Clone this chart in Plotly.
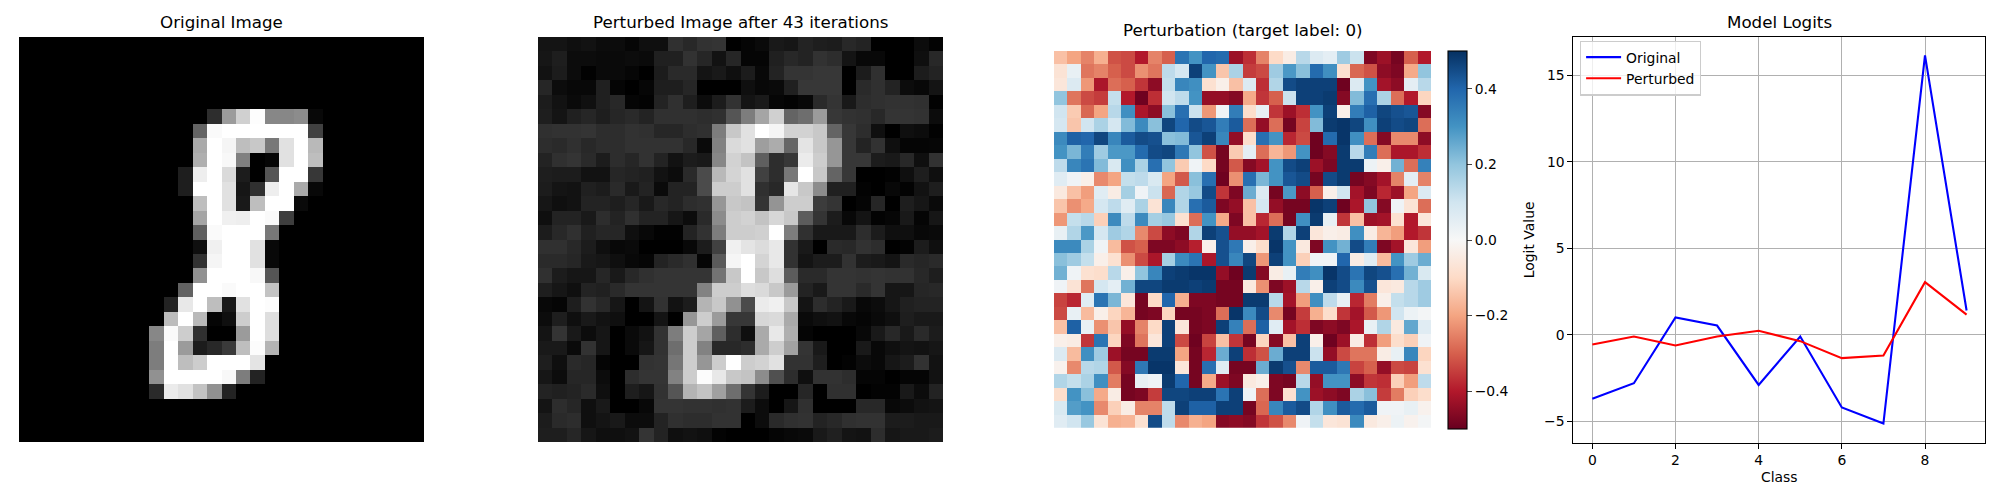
import plotly.graph_objects as go

classes = [0, 1, 2, 3, 4, 5, 6, 7, 8, 9]
logits_original = [-3.7, -2.8, 1.0, 0.53, -2.9, -0.1, -4.2, -5.13, 16.15, 1.4]
logits_perturbed = [-0.56, -0.1, -0.62, -0.1, 0.23, -0.37, -1.35, -1.2, 3.04, 1.16]

# grey levels 0-255
original_image = [
    [0] * 28,
    [0] * 28,
    [0] * 28,
    [0] * 28,
    [0] * 28,
    [0] * 13 + [45, 155, 208, 253, 135, 135, 140, 8] + [0] * 7,
    [0] * 12 + [100, 250, 255, 255, 255, 255, 255, 255, 65] + [0] * 7,
    [0] * 12 + [170, 255, 245, 190, 200, 120, 225, 255, 185] + [0] * 7,
    [0] * 12 + [175, 255, 248, 128, 0, 5, 225, 255, 190] + [0] * 7,
    [0] * 11 + [30, 238, 255, 218, 28, 0, 85, 255, 255, 55] + [0] * 7,
    [0] * 11 + [30, 255, 255, 225, 22, 48, 238, 255, 170, 8] + [0] * 7,
    [0] * 12 + [190, 255, 225, 25, 190, 255, 255, 10] + [0] * 8,
    [0] * 12 + [165, 255, 240, 238, 255, 250, 62] + [0] * 9,
    [0] * 12 + [95, 250, 255, 255, 255, 120] + [0] * 10,
    [0] * 12 + [15, 240, 255, 255, 225, 8] + [0] * 10,
    [0] * 12 + [50, 245, 255, 255, 225, 8] + [0] * 10,
    [0] * 12 + [145, 255, 255, 255, 248, 85] + [0] * 10,
    [0] * 11 + [98, 255, 255, 250, 255, 255, 195] + [0] * 10,
    [0] * 10 + [35, 232, 255, 190, 25, 225, 255, 252] + [0] * 10,
    [0] * 10 + [188, 255, 185, 5, 15, 205, 255, 222] + [0] * 10,
    [0] * 9 + [135, 250, 205, 48, 0, 0, 155, 255, 222] + [0] * 10,
    [0] * 9 + [125, 255, 155, 28, 40, 58, 190, 252, 180] + [0] * 10,
    [0] * 9 + [125, 255, 190, 205, 255, 255, 255, 228] + [0] * 11,
    [0] * 9 + [145, 255, 255, 255, 255, 248, 125, 35] + [0] * 11,
    [0] * 9 + [42, 235, 225, 195, 145, 35] + [0] * 13,
    [0] * 28,
    [0] * 28,
    [0] * 28,
]

perturbed_image = [
    [20, 20, 15, 18, 12, 12, 6, 15, 15, 48, 40, 50, 52, 0, 5, 10, 25, 22, 35, 30, 28, 40, 35, 0, 0, 0, 12, 3],
    [22, 30, 12, 12, 10, 10, 12, 10, 32, 32, 50, 38, 18, 38, 5, 5, 32, 40, 35, 50, 45, 20, 8, 8, 0, 0, 15, 40],
    [18, 28, 12, 2, 10, 10, 6, 0, 28, 42, 42, 20, 25, 15, 28, 8, 35, 52, 52, 55, 55, 0, 28, 48, 0, 0, 28, 35],
    [38, 12, 8, 8, 32, 5, 0, 6, 30, 30, 38, 0, 0, 0, 15, 8, 10, 32, 55, 55, 55, 0, 42, 48, 35, 12, 8, 20],
    [28, 18, 10, 16, 32, 40, 5, 3, 35, 48, 30, 12, 28, 50, 20, 26, 6, 3, 8, 42, 52, 25, 45, 48, 50, 50, 48, 2],
    [30, 20, 32, 38, 30, 38, 42, 35, 48, 48, 48, 45, 48, 85, 125, 165, 208, 100, 110, 155, 55, 50, 48, 40, 52, 52, 50, 12],
    [48, 50, 50, 52, 45, 45, 50, 48, 38, 38, 45, 48, 125, 200, 225, 255, 245, 210, 210, 200, 100, 55, 45, 15, 0, 15, 12, 2],
    [45, 42, 48, 40, 45, 45, 50, 50, 50, 50, 40, 10, 130, 218, 225, 158, 172, 102, 228, 200, 150, 55, 35, 50, 15, 5, 5, 6],
    [35, 48, 52, 42, 28, 45, 38, 50, 35, 18, 28, 25, 135, 210, 195, 95, 45, 55, 235, 205, 150, 55, 55, 28, 25, 40, 15, 50],
    [30, 28, 28, 18, 18, 38, 35, 32, 18, 12, 42, 75, 185, 212, 225, 65, 45, 120, 255, 200, 100, 55, 0, 0, 2, 15, 30, 15],
    [28, 20, 18, 32, 28, 42, 25, 35, 10, 35, 35, 75, 205, 205, 225, 48, 40, 230, 200, 140, 32, 32, 3, 0, 8, 3, 18, 30],
    [22, 15, 18, 35, 35, 30, 38, 25, 40, 35, 45, 48, 150, 200, 195, 52, 148, 205, 205, 60, 52, 0, 5, 38, 0, 30, 22, 10],
    [15, 35, 35, 25, 45, 35, 48, 35, 35, 22, 12, 42, 140, 205, 210, 195, 215, 200, 92, 52, 28, 8, 20, 3, 6, 25, 5, 22],
    [28, 40, 48, 32, 38, 38, 15, 8, 2, 2, 35, 50, 125, 205, 205, 208, 255, 125, 48, 25, 25, 25, 45, 28, 15, 15, 8, 10],
    [48, 48, 40, 28, 15, 8, 10, 0, 0, 0, 8, 28, 65, 240, 228, 220, 232, 50, 25, 0, 42, 40, 50, 45, 0, 3, 28, 15],
    [42, 42, 38, 25, 22, 15, 8, 5, 35, 42, 48, 5, 90, 245, 255, 212, 232, 50, 20, 28, 28, 50, 28, 25, 20, 42, 38, 42],
    [48, 28, 22, 22, 38, 25, 40, 48, 52, 52, 52, 52, 115, 200, 255, 200, 222, 92, 42, 42, 52, 52, 50, 52, 50, 50, 40, 30],
    [30, 22, 15, 35, 32, 42, 52, 52, 52, 52, 52, 130, 205, 205, 222, 218, 200, 155, 35, 25, 52, 52, 42, 52, 22, 22, 38, 40],
    [8, 5, 30, 50, 40, 22, 0, 20, 50, 18, 28, 180, 200, 145, 75, 235, 240, 200, 20, 45, 35, 25, 8, 12, 22, 32, 35, 35],
    [12, 30, 15, 25, 18, 15, 0, 0, 20, 0, 150, 205, 155, 55, 55, 215, 218, 170, 10, 15, 18, 8, 5, 10, 15, 30, 25, 25],
    [20, 52, 25, 12, 22, 0, 10, 18, 50, 125, 205, 165, 95, 45, 15, 170, 232, 175, 5, 0, 0, 0, 8, 25, 40, 25, 42, 28],
    [25, 25, 10, 50, 22, 0, 10, 22, 50, 110, 205, 130, 40, 40, 45, 170, 205, 162, 52, 25, 0, 0, 25, 8, 15, 20, 18, 22],
    [30, 15, 42, 38, 5, 0, 0, 50, 52, 118, 205, 150, 205, 255, 205, 210, 225, 50, 50, 30, 0, 3, 12, 8, 22, 28, 50, 18],
    [22, 12, 38, 38, 12, 0, 45, 52, 52, 130, 205, 252, 232, 200, 195, 140, 80, 45, 15, 50, 50, 45, 5, 5, 0, 5, 5, 18],
    [35, 32, 35, 42, 15, 0, 30, 22, 50, 85, 180, 195, 160, 110, 52, 28, 0, 0, 38, 0, 48, 48, 0, 3, 3, 25, 12, 35],
    [20, 45, 38, 15, 25, 0, 0, 8, 52, 52, 50, 50, 48, 50, 28, 12, 0, 22, 48, 0, 0, 0, 40, 40, 8, 12, 18, 20],
    [28, 42, 45, 15, 20, 25, 12, 12, 35, 48, 45, 45, 50, 50, 0, 12, 42, 48, 50, 35, 40, 48, 50, 50, 28, 28, 25, 25],
    [30, 30, 38, 22, 15, 15, 18, 52, 35, 15, 18, 15, 3, 0, 0, 0, 5, 8, 10, 25, 32, 20, 18, 45, 22, 25, 25, 28],
]

# perturbation in hundredths
perturbation = [
    [-15, -20, -25, -18, -32, -33, -40, -25, -30, 37, 30, 40, 39, -43, -37, -25, -10, -4, 14, 7, 5, 18, 11, -47, -43, -48, -30, -40],
    [-7, 4, -27, -25, -30, -33, -23, -27, 13, 9, 47, 30, -14, 16, -35, -33, 18, 29, 21, 39, 31, -8, -29, -32, -45, -47, -19, 20],
    [-6, 7, -22, -41, -28, -30, -36, -45, 12, 33, 31, -8, -3, -15, 7, -37, 15, 45, 47, 47, 47, -49, 7, 30, -42, -45, 5, 14],
    [20, -27, -33, -35, 12, -40, -49, -37, 10, 13, 30, -44, -44, -46, -19, -36, -30, 11, 47, 47, 48, -46, 22, 38, 16, -28, -40, -11],
    [10, -13, -29, -20, 14, 31, -41, -45, 21, 38, 11, -22, 2, 35, -9, 4, -36, -43, -37, 30, 47, -3, 35, 41, 46, 44, 43, -46],
    [9, -14, 10, 16, 9, 22, 32, 21, 46, 40, 45, 43, 35, 42, -28, -44, -28, -48, -34, 22, 48, 49, 46, 31, 47, 45, 46, -28],
    [32, 41, 40, 46, 33, 42, 45, 44, 21, 22, 43, 47, 33, -44, -9, 38, 30, -38, -33, -49, 39, 49, 31, -28, -46, -24, -24, -45],
    [30, 23, 35, 18, 29, 29, 39, 45, 46, 36, 20, -32, -48, -13, 5, -28, -17, -22, 30, -49, -46, 48, 14, 35, -28, -41, -41, -37],
    [13, 33, 37, 22, 8, 31, 16, 38, 20, -13, 2, -10, -48, -31, -46, -42, 30, 45, 47, -43, -47, 48, 48, 3, -3, 24, -28, 34],
    [6, 2, -3, -24, -20, 12, 13, 8, -20, -31, 21, 38, -49, -23, 38, 23, 30, 43, 45, -48, 45, 48, -48, -46, -42, -25, 5, -25],
    [-5, -15, -21, 6, -4, 17, 2, 11, -29, 15, 19, 45, -36, -47, 25, 7, -48, 29, -45, -30, -3, 10, -42, -47, -38, -43, -20, 7],
    [-14, -23, -19, 9, 13, 6, 16, -7, 33, 15, 38, 42, -47, -44, -15, 9, -44, -48, -48, 49, 47, -49, -41, 20, -46, 2, -7, -28],
    [-22, 12, 14, -12, 32, 13, 32, 17, 19, -8, -28, 30, -19, -47, -15, -38, -28, -48, 31, 48, 4, -36, -15, -43, -42, -8, -40, -6],
    [4, 15, 29, 9, 18, 15, -24, -33, -45, -47, 15, 47, 44, -44, -44, -42, 48, 15, 47, -6, -3, -4, 31, -4, -17, -21, -40, -36],
    [32, 32, 16, 2, -16, -32, -30, -47, -47, -45, -39, -3, 44, 36, -3, -9, 49, 30, -5, -47, 30, 24, 45, 35, -47, -42, -6, -21],
    [21, 18, 12, -3, -8, -23, -33, -41, 17, 32, 37, -41, 44, 33, 46, -22, 47, 30, -12, 2, 2, 40, -4, 6, -16, 30, 18, 25],
    [24, 2, -8, -9, 14, -3, 20, 33, 47, 48, 49, 49, -44, -49, 48, -46, -4, 4, 35, 31, 49, 45, 37, 46, 44, 38, 24, 8],
    [2, -7, -27, 9, 5, 24, 46, 46, 48, 48, 47, 48, -48, -48, -5, -23, -47, -43, 14, -3, 47, 45, 32, 44, -6, -5, 14, 18],
    [-34, -38, 6, 37, 23, -6, -48, -10, 40, -18, -47, -47, -48, -48, 48, 48, 14, -42, -21, 31, 13, 4, -38, -26, -3, 12, 14, 18],
    [-33, 4, -16, -3, -11, -17, -48, -47, -11, -48, -48, -47, -28, 49, 32, 45, -24, -48, -35, -18, -9, -36, -42, -31, -22, 10, 3, 1],
    [-15, 41, 4, -23, -14, -44, -25, -10, 47, -6, -48, -47, 47, 34, -28, 41, 6, -42, -37, -47, -45, -47, -41, 4, 15, -5, 26, 6],
    [-3, -4, -36, 37, -11, -47, -27, -6, 47, -33, -49, -34, -15, -36, -48, -11, -46, -15, 47, -3, -49, -43, -4, -37, -21, -9, -12, 2],
    [7, -16, 31, 18, -43, -48, -48, 48, 48, -20, -48, -38, 25, 47, -37, -32, 25, 47, 47, 11, -44, -33, -27, -27, -4, 4, 33, -11],
    [-2, -24, 14, 15, -31, -46, 36, 49, 49, -6, -48, 38, 6, -48, -48, 25, 48, 44, -24, 42, 42, 36, -34, -30, -44, -33, -34, -8],
    [15, 12, 16, 31, -26, -48, 4, 2, 48, 40, -48, -19, -43, -47, -5, -3, -47, -48, 14, -44, 30, 30, -45, -36, -37, -12, -21, 13],
    [-9, 30, 21, -19, -4, -48, -47, -35, 46, 46, 47, 47, 37, 47, 2, -28, -47, -8, 30, -43, -45, -47, 16, 21, -35, -26, -12, -9],
    [8, 28, 30, -24, -12, -4, -25, -25, 13, 47, 41, 41, 47, 47, -48, -29, 33, 42, 45, 15, 31, 42, 39, 42, 2, 2, 4, -2],
    [6, 10, 19, -7, -18, -17, -8, 45, 13, -24, -18, -20, -46, -45, -46, -36, -32, -24, 2, 12, -6, -7, 32, -5, -3, 3, -2, 1],
]

# the page keeps its 8px body margin, so the figure is 8px smaller and positions shift by 8
PAGE_MARGIN = 8
W, H = 2000 - PAGE_MARGIN, 500 - PAGE_MARGIN
FONT = "DejaVu Sans"
gray = [[0, "#000000"], [1, "#ffffff"]]


def px(x):
    return (x - PAGE_MARGIN) / W


def py(y):
    return 1 - (y - PAGE_MARGIN) / H


def dom_x(a, b):
    return [px(a), px(b)]


def dom_y(top, bottom):
    return [py(bottom), py(top)]


fig = go.Figure()
fig.add_trace(go.Heatmap(z=original_image, colorscale=gray, zmin=0, zmax=255, showscale=False, xaxis="x", yaxis="y"))
fig.add_trace(go.Heatmap(z=perturbed_image, colorscale=gray, zmin=0, zmax=255, showscale=False, xaxis="x2", yaxis="y2"))
fig.add_trace(go.Heatmap(
    z=[[v / 100 for v in row] for row in perturbation],
    colorscale="RdBu", zmin=-0.5, zmax=0.5, xaxis="x3", yaxis="y3",
    colorbar=dict(
        x=px(1447.7), xanchor="left", xpad=0, y=py(429), yanchor="bottom", ypad=0,
        lenmode="fraction", len=378.3 / H, thicknessmode="pixels", thickness=18.6,
        outlinecolor="black", outlinewidth=1.1, ticks="outside", ticklen=4.9, tickwidth=1.1,
        tickvals=[-0.4, -0.2, 0, 0.2, 0.4], tickformat=".1f",
        tickfont=dict(family=FONT, size=13.9, color="black"),
    ),
))
fig.add_trace(go.Scatter(x=classes, y=logits_original, mode="lines", name="Original",
                         line=dict(color="#0000ff", width=2.1), xaxis="x4", yaxis="y4"))
fig.add_trace(go.Scatter(x=classes, y=logits_perturbed, mode="lines", name="Perturbed",
                         line=dict(color="#ff0000", width=2.1), xaxis="x4", yaxis="y4"))

image_axis = dict(visible=False, showgrid=False, zeroline=False)
line_axis = dict(
    showline=True, linecolor="black", linewidth=1.1, mirror=True,
    ticks="outside", ticklen=4.9, tickwidth=1.1, tickcolor="black",
    showgrid=True, gridcolor="#b0b0b0", gridwidth=1.1, zeroline=False,
    tickfont=dict(family=FONT, size=13.9, color="black"),
)

fig.update_layout(
    width=W, height=H, margin=dict(l=0, r=0, t=0, b=0),
    paper_bgcolor="white", plot_bgcolor="white",
    font=dict(family=FONT, size=13.9, color="black"),
    xaxis=dict(image_axis, domain=dom_x(19, 424), range=[-0.5, 27.5], anchor="y"),
    yaxis=dict(image_axis, domain=dom_y(37, 442), range=[27.5, -0.5], anchor="x"),
    xaxis2=dict(image_axis, domain=dom_x(538, 943), range=[-0.5, 27.5], anchor="y2"),
    yaxis2=dict(image_axis, domain=dom_y(37, 442), range=[27.5, -0.5], anchor="x2"),
    xaxis3=dict(image_axis, domain=dom_x(1054, 1431), range=[-0.5, 27.5], anchor="y3"),
    yaxis3=dict(image_axis, domain=dom_y(51, 427.7), range=[27.5, -0.5], anchor="x3"),
    xaxis4=dict(line_axis, domain=dom_x(1573.3, 1985.3), range=[-0.457, 9.45], tickvals=[0, 2, 4, 6, 8], anchor="y4",
                automargin=False,
                title=dict(text="Class", standoff=4, font=dict(family=FONT, size=13.9, color="black"))),
    yaxis4=dict(line_axis, domain=dom_y(37, 442.7), range=[-6.24, 17.21], tickvals=[-5, 0, 5, 10, 15], anchor="x4",
                automargin=False,
                title=dict(text="Logit Value", standoff=6, font=dict(family=FONT, size=13.9, color="black"))),
    legend=dict(
        x=px(1580), y=py(40.5), xanchor="left", yanchor="top",
        bgcolor="rgba(255,255,255,0.8)", bordercolor="#cccccc", borderwidth=1.1,
        font=dict(family=FONT, size=13.9, color="black"), itemwidth=35,
    ),
    showlegend=True,
)

titles = [
    ("Original Image", 221.5, 34.5),
    ("Perturbed Image after 43 iterations", 740.5, 34.5),
    ("Perturbation (target label: 0)", 1242.5, 42),
    ("Model Logits", 1779.3, 34.5),
]
for text, cx, bottom in titles:
    fig.add_annotation(text=text, x=px(cx), y=py(bottom), xref="paper", yref="paper",
                       xanchor="center", yanchor="bottom", showarrow=False,
                       font=dict(family=FONT, size=16.7, color="black"))

fig.write_html("out.html")
